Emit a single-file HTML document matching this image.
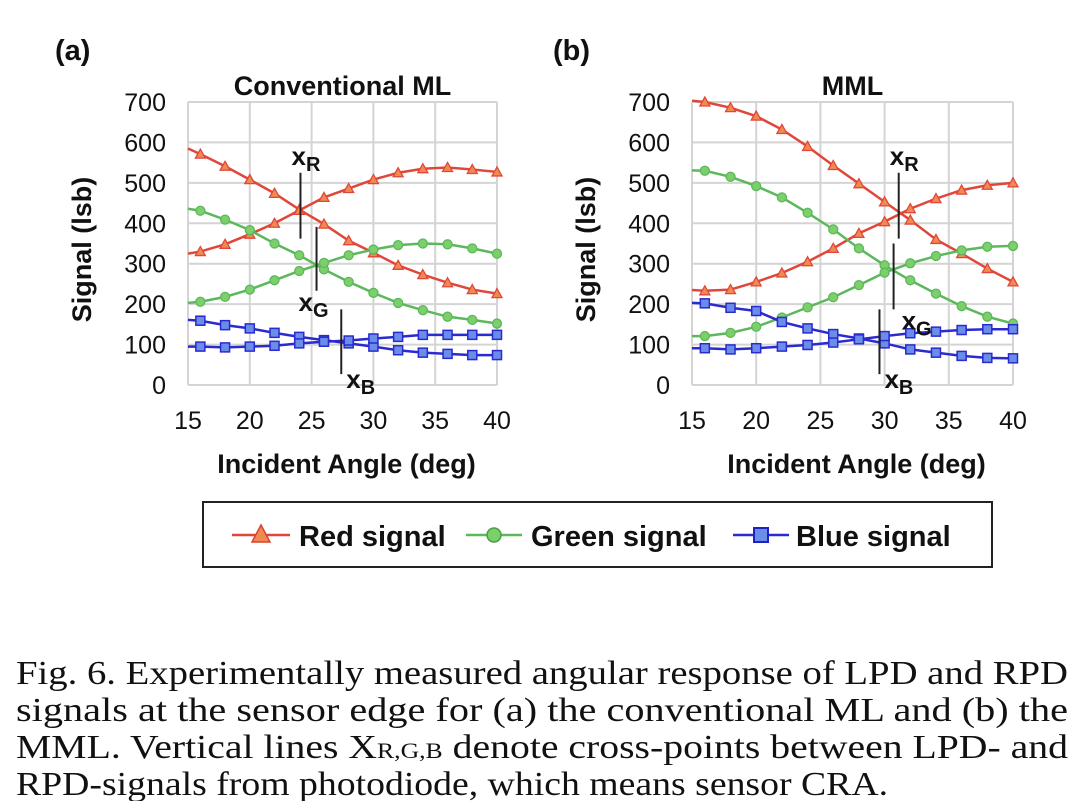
<!DOCTYPE html>
<html><head><meta charset="utf-8"><style>
html,body{margin:0;padding:0;background:#fff;}
svg{display:block;}
</style></head><body>
<svg id="fig" width="1080" height="801" viewBox="0 0 1080 801" xmlns="http://www.w3.org/2000/svg" font-family="Liberation Sans, Arial, sans-serif">
<rect width="1080" height="801" fill="#fff"/>
<g id="ga"></g>
<g id="gb"></g>
<g>
  <rect x="203" y="502" width="789" height="65" fill="#fff" stroke="#222" stroke-width="2"/>
  <g>
    <line x1="232" y1="535" x2="290" y2="535" stroke="#e0473a" stroke-width="2.5"/>
    <polygon points="261,525 270,542 252,542" fill="#f08a50" stroke="#d9402f" stroke-width="1.5"/>
    <text x="299" y="546" font-size="29" font-weight="bold" fill="#111">Red signal</text>
  </g>
  <g>
    <line x1="466" y1="535" x2="522" y2="535" stroke="#5cb85c" stroke-width="2.5"/>
    <circle cx="494" cy="535" r="7" fill="#7ccf6a" stroke="#4a9e45" stroke-width="1.5"/>
    <text x="531" y="546" font-size="29" font-weight="bold" fill="#111">Green signal</text>
  </g>
  <g>
    <line x1="733" y1="535" x2="789" y2="535" stroke="#2a2ad0" stroke-width="2.5"/>
    <rect x="754" y="528" width="14" height="14" fill="#6a8ee8" stroke="#2020c8" stroke-width="2"/>
    <text x="796" y="546" font-size="29" font-weight="bold" fill="#111">Blue signal</text>
  </g>
</g>
<g font-family="Liberation Serif, Times New Roman, serif" font-size="34" fill="#111">
  <text x="16" y="684" textLength="1052" lengthAdjust="spacingAndGlyphs">Fig. 6.  Experimentally measured angular response of LPD and RPD</text>
  <text x="16" y="721" textLength="1052" lengthAdjust="spacingAndGlyphs">signals at the sensor edge for (a) the conventional ML and (b) the</text>
  <text x="16" y="758" textLength="1052" lengthAdjust="spacingAndGlyphs">MML. Vertical lines X<tspan font-size="22">R,G,B</tspan> denote cross-points between LPD- and</text>
  <text x="16" y="795" textLength="872" lengthAdjust="spacingAndGlyphs">RPD-signals from photodiode, which means sensor CRA.</text>
</g>
</svg>
<script>
const angles = [15,16,18,20,22,24,26,28,30,32,34,36,38,40];
const xTicks = [15,20,25,30,35,40];
const yTicks = [0,100,200,300,400,500,600,700];
// chart (a) Conventional ML
const aRedDec   = [585,571,541,508,474,434,398,357,327,296,273,253,236,226];
const aRedInc   = [325,330,348,373,400,432,464,486,508,525,535,538,533,527];
const aGreenDec = [436,431,409,383,350,321,286,255,228,203,185,169,161,152];
const aGreenInc = [203,206,218,236,259,282,302,321,335,346,350,348,338,325];
const aBlueDec  = [161,159,148,140,129,119,111,103,95,86,80,77,74,74];
const aBlueInc  = [95,95,93,95,97,103,107,110,115,119,124,124,124,124];
const aCross = [{label:'R',x:24.1,y1:362,y2:525},{label:'G',x:25.4,y1:233,y2:391},{label:'B',x:27.4,y1:27,y2:187}];
// chart (b) MML
const bRedDec   = [703,700,686,665,632,590,543,498,453,408,360,325,288,255];
const bRedInc   = [235,233,236,255,277,305,338,375,404,436,461,482,494,500];
const bGreenDec = [531,530,515,492,464,426,385,338,296,259,226,195,169,152];
const bGreenInc = [121,121,129,144,167,192,217,247,278,301,319,333,342,344];
const bBlueDec  = [203,202,191,183,156,140,126,115,103,88,80,72,67,66];
const bBlueInc  = [91,91,88,91,95,99,105,113,121,128,132,136,138,138];
const bCross = [{label:'R',x:31.1,y1:362,y2:525},{label:'G',x:30.7,y1:187,y2:350},{label:'B',x:29.6,y1:27,y2:187}];

const NS='http://www.w3.org/2000/svg';
function mk(tag,attrs,parent){const e=document.createElementNS(NS,tag);for(const k in attrs)e.setAttribute(k,attrs[k]);parent.appendChild(e);return e;}

function drawChart(g, L, R, title, tag, tagX, series, cross, labelOff){
  const T=102,B=385;
  const sx=v=>L+(v-15)/25*(R-L);
  const sy=v=>B-v/700*(B-T);
  for(const t of yTicks){
    const l=mk('line',{x1:L,x2:R,y1:sy(t),y2:sy(t),stroke:'#d4d4d4','stroke-width':2},g);
    
    
    const tx=mk('text',{x:L-22,y:sy(t)+9,'font-size':25,'text-anchor':'end',fill:'#111'},g);
    tx.textContent=t;
    
    
  }
  for(const t of xTicks){
    const l=mk('line',{x1:sx(t),x2:sx(t),y1:T,y2:B,stroke:'#d4d4d4','stroke-width':2},g);
    
    
    const tx=mk('text',{x:sx(t),y:429,'font-size':25,'text-anchor':'middle',fill:'#111'},g);
    tx.textContent=t;
    
    
  }
  const tt=mk('text',{x:(L+R)/2,y:95,'font-size':27,'font-weight':'bold','text-anchor':'middle',fill:'#111'},g);
  tt.textContent=title;
  
  
  const tg=mk('text',{x:tagX,y:60,'font-size':29,'font-weight':'bold',fill:'#111'},g);
  tg.textContent=tag;
  
  
  const xt=mk('text',{x:(L+R)/2+4,y:473,'font-size':27,'font-weight':'bold','text-anchor':'middle',fill:'#111'},g);
  xt.textContent='Incident Angle (deg)';
  
  
  const yx=L-97, yy=(T+B)/2+6;
  const yt=mk('text',{x:yx,y:yy,'font-size':27,'font-weight':'bold','text-anchor':'middle',fill:'#111',transform:`rotate(-90 ${yx} ${yy})`},g);
  yt.textContent='Signal (lsb)';
  
  

  for(const s of series){
    const pts=angles.map((a,i)=>sx(a)+','+sy(Math.min(s.vals[i],705))).join(' ');
    const pl=mk('polyline',{points:pts,fill:'none',stroke:s.line,'stroke-width':2.5},g);
    
    
    angles.forEach((a,i)=>{
      if(i===0) return;
      const x=sx(a), y=sy(Math.min(s.vals[i],705));
      let m;
      if(s.shape==='tri') m=mk('polygon',{points:`${x},${y-5} ${x+5},${y+4} ${x-5},${y+4}`,fill:s.fill,stroke:s.line,'stroke-width':1.3},g);
      else if(s.shape==='circ') m=mk('circle',{cx:x,cy:y,r:4.5,fill:s.fill,stroke:s.line,'stroke-width':1.3},g);
      else m=mk('rect',{x:x-4.5,y:y-4.5,width:9,height:9,fill:s.fill,stroke:s.line,'stroke-width':1.5},g);
      
      
    });
  }
  for(const c of cross){
    const l=mk('line',{x1:sx(c.x),x2:sx(c.x),y1:sy(c.y1),y2:sy(c.y2),stroke:'#222','stroke-width':2},g);
    
    
    const lx = c.label==='R' ? sx(c.x)-9 : sx(c.x)-(c.label==='G'?18:0)+(labelOff||0)*(c.label==='G'?1:0);
    const ly = c.label==='R' ? sy(c.y2)-8 : sy(c.y1)+ (c.label==='G'?20:14);
    const t=mk('text',{x:c.label==='B'?sx(c.x)+5:lx,y:ly,'font-size':26,'font-weight':'bold',fill:'#111'},g);
    t.textContent='x';
    const sub=mk('tspan',{'font-size':20,dy:6},t);
    sub.textContent=c.label;
    
    
  }
}
const red={line:'#e0473a',fill:'#f08a50',shape:'tri'}, green={line:'#5cb85c',fill:'#7ccf6a',shape:'circ'}, blue={line:'#2a2ad0',fill:'#6a8ee8',shape:'sq'};
drawChart(document.getElementById('ga'),188,497,'Conventional ML','(a)',55,[
  Object.assign({name:'a-red-dec',vals:aRedDec},red),Object.assign({name:'a-red-inc',vals:aRedInc},red),
  Object.assign({name:'a-green-dec',vals:aGreenDec},green),Object.assign({name:'a-green-inc',vals:aGreenInc},green),
  Object.assign({name:'a-blue-dec',vals:aBlueDec},blue),Object.assign({name:'a-blue-inc',vals:aBlueInc},blue)],aCross,0);
drawChart(document.getElementById('gb'),692,1013,'MML','(b)',553,[
  Object.assign({name:'b-red-dec',vals:bRedDec},red),Object.assign({name:'b-red-inc',vals:bRedInc},red),
  Object.assign({name:'b-green-dec',vals:bGreenDec},green),Object.assign({name:'b-green-inc',vals:bGreenInc},green),
  Object.assign({name:'b-blue-dec',vals:bBlueDec},blue),Object.assign({name:'b-blue-inc',vals:bBlueInc},blue)],bCross,26);
</script>
</body></html>
